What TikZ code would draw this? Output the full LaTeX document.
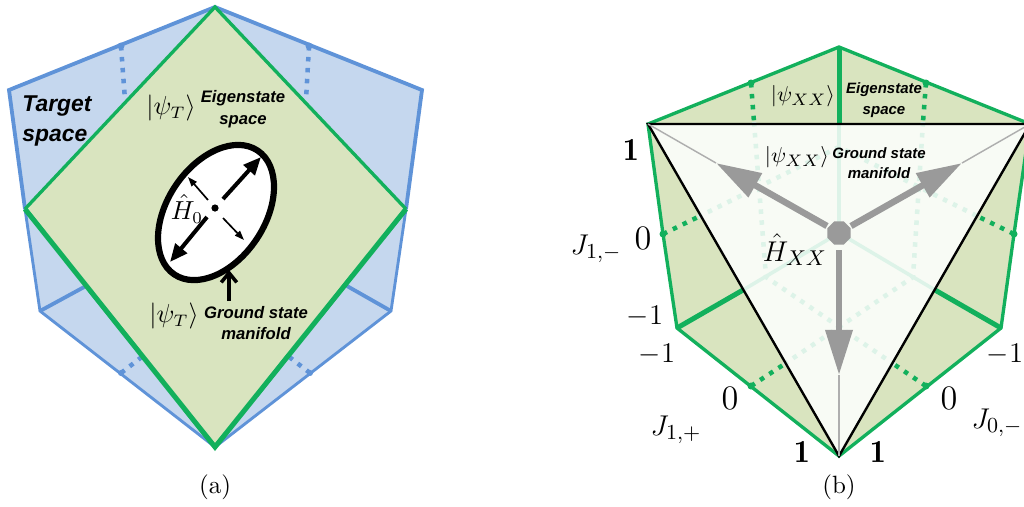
\documentclass[tikz,border=0pt]{standalone}
\usepackage{fontspec}
\usetikzlibrary{arrows.meta,shapes.geometric}
\newfontfamily\captionfont[ItalicFont={Liberation Sans Bold Italic}]{Liberation Sans}
\definecolor{bluefill}{HTML}{C5D7EE}
\definecolor{blueline}{HTML}{5F93D8}
\definecolor{greenfill}{HTML}{D9E4BF}
\definecolor{greenline}{HTML}{12B05C}
\definecolor{palefill}{HTML}{F8FBF5}
\definecolor{paleline}{HTML}{DDF3E8}
\definecolor{arrowgray}{HTML}{9A9A9A}
\tikzset{
    blueedge/.style={draw=blueline, line width=1.6pt, line join=miter},
    bluethin/.style={draw=blueline, line width=1.2pt},
    bluedots/.style={draw=blueline, line width=1.9pt, dash pattern=on 1.9pt off 2.7pt},
    greenedge/.style={draw=greenline, line width=1.4pt, line join=miter},
    greenthick/.style={draw=greenline, line width=2.1pt},
    greendots/.style={draw=greenline, line width=1.9pt, dash pattern=on 1.9pt off 2.7pt},
    palesolid/.style={draw=paleline, line width=1.5pt},
    paledots/.style={draw=paleline, line width=1.9pt, dash pattern=on 1.9pt off 2.7pt},
    blackarrow/.style={-{Triangle[length=7.5pt,width=6.2pt]}, line width=1.7pt},
    thinarrow/.style={-{Triangle[length=4pt,width=2.8pt]}, line width=0.7pt},
    grayarrow/.style={draw=arrowgray, line width=2.7pt, -{Triangle[length=19pt,width=11pt]}},
    graythin/.style={draw=arrowgray!80, line width=0.6pt},
    sanslabel/.style={font=\captionfont\itshape\scriptsize, align=center, inner sep=0pt},
    sanssmall/.style={font=\captionfont\itshape\fontsize{6.3}{7.6}\selectfont, align=center, inner sep=0pt},
    biglabel/.style={font=\captionfont\itshape\fontsize{9.6}{12.2}\selectfont, align=center, inner sep=0pt},
    ticklabel/.style={font=\fontsize{13.5}{15}\selectfont, inner sep=0pt},
    negticklabel/.style={font=\fontsize{11.5}{14}\selectfont, inner sep=0pt},
    mathlabel/.style={inner sep=0pt, font=\fontsize{10.5}{12}\selectfont},
    smallmath/.style={inner sep=0pt, font=\fontsize{9.4}{11}\selectfont},
    widemath/.style={inner sep=0pt, font=\fontsize{12.5}{14}\selectfont}
}
\begin{document}
\begin{tikzpicture}[x=0.42pt,y=-0.42pt]
        \clip (0,0) rectangle (1024,506);
        \coordinate (atop) at (215,7);
        \coordinate (aleftup) at (9,90);
        \coordinate (arightup) at (422,90);
        \coordinate (aleft) at (25,209);
        \coordinate (aright) at (406,209);
        \coordinate (aleftlow) at (40,311);
        \coordinate (arightlow) at (391,311);
        \coordinate (abottom) at (215,447);
        \coordinate (ainnerl) at (86,286);
        \coordinate (ainnerr) at (347,286);
        \coordinate (aul) at (121,46);
        \coordinate (aur) at (309,46);
        \coordinate (aull) at (125,100);
        \coordinate (aurr) at (306,100);
        \coordinate (all) at (121,373);
        \coordinate (alr) at (310,373);
        \coordinate (alll) at (143,356);
        \coordinate (alrr) at (288,356);
        \coordinate (acentre) at (215,208);

        \fill[bluefill] (atop) -- (aleftup) -- (aleft) -- (aleftlow) -- (abottom) -- (arightlow) -- (aright) -- (arightup) -- cycle;
        \draw[blueedge] (aleft) -- (aleftup) -- (atop) -- (arightup) -- (aright);
        \draw[bluethin] (aleft) -- (aleftlow) -- (abottom) -- (arightlow) -- (aright);
        \draw[blueedge] (aleftlow) -- (ainnerl);
        \draw[blueedge] (arightlow) -- (ainnerr);
        \draw[bluedots] (aul) -- (aull);
        \draw[bluedots] (aur) -- (aurr);
        \draw[bluedots] (all) -- (alll);
        \draw[bluedots] (alr) -- (alrr);
        \fill[blueline] (aul) circle (3.5) (aur) circle (3.5) (all) circle (3) (alr) circle (3);
        \fill[greenfill] (atop) -- (aleft) -- (abottom) -- (aright) -- cycle;
        \draw[greenedge] (aleft) -- (atop) -- (aright);
        \draw[greenthick, line join=miter] (aleft) -- (abottom) -- (aright);
        \node[draw, line width=2.6pt, fill=white, ellipse, minimum width=62.7pt, minimum height=40.8pt, inner sep=0pt, rotate=56] (ellipse) at (216,212.5) {};
        \fill (acentre) circle (3.6);
        \node[mathlabel] (hzero) at (187,209) {$\hat{H}_0$};
        \draw[blackarrow] (223,199) -- (261,157);
        \draw[blackarrow] (207,217) -- (170,262);
        \draw[thinarrow] (208,200) -- (188,177);
        \draw[thinarrow] (223,218) -- (244,240);
        \coordinate (amanifold) at (229,301);
        \draw[line width=1.5pt, -{Straight Barb[length=4pt,width=6.5pt]}] (amanifold) -- (229,270);
        \node[mathlabel] (apsiup) at (171,108) {$|\psi_T\rangle$};
        \node[mathlabel] (apsilow) at (174,316) {$|\psi_T\rangle$};
        \node[sanslabel] (aeigen) at (243,109) {Eigenstate\\[1.2pt]space};
        \node[sanslabel] (aground) at (256,323) {Ground state\\[1.2pt]manifold};
        \node[biglabel, align=left] (atarget) at (57,121) {Target\\space};
        \node[mathlabel] (acaption) at (215,487) {(a)};

        \coordinate (btop) at (839,47);
        \coordinate (bleftup) at (648,124);
        \coordinate (brightup) at (1030,124);
        \coordinate (bleft) at (663,234);
        \coordinate (bright) at (1014,234);
        \coordinate (bleftlow) at (677,328);
        \coordinate (brightlow) at (1001,328);
        \coordinate (bbottom) at (839,456);
        \coordinate (bcentre) at (839,233);
        \coordinate (bmidtop) at (839,124);
        \coordinate (binnerl) at (743,290);
        \coordinate (binnerr) at (935,290);
        \coordinate (bul) at (751,83);
        \coordinate (bur) at (926,83);
        \coordinate (bll) at (751,386);
        \coordinate (blr) at (926,386);
        \coordinate (bulend) at (754,122);
        \coordinate (burend) at (923,122);
        \coordinate (bleftend) at (698,217);
        \coordinate (brightend) at (979,217);
        \coordinate (bllend) at (783,365);
        \coordinate (blrend) at (895,365);
        \coordinate (bpeak) at (839,147);
        \coordinate (bhidel) at (766,277);
        \coordinate (bhider) at (913,277);

        \fill[greenfill] (btop) -- (bleftup) -- (bleft) -- (bleftlow) -- (bbottom) -- (brightlow) -- (bright) -- (brightup) -- cycle;
        \fill[palefill] (bleftup) -- (brightup) -- (bbottom) -- cycle;
        \draw[palesolid] (bmidtop) -- (bcentre);
        \draw[palesolid] (binnerl) -- (bcentre);
        \draw[palesolid] (binnerr) -- (bcentre);
        \draw[paledots] (bulend) -- (bhidel) -- (blrend);
        \draw[paledots] (burend) -- (bhider) -- (bllend);
        \draw[paledots] (bleftend) -- (bpeak) -- (brightend);
        \draw[greendots] (bul) -- (bulend);
        \draw[greendots] (bur) -- (burend);
        \draw[greendots] (bleft) -- (bleftend);
        \draw[greendots] (bright) -- (brightend);
        \draw[greendots] (bll) -- (bllend);
        \draw[greendots] (blr) -- (blrend);
        \draw[greenthick] (btop) -- (bmidtop);
        \draw[greenthick] (bleftlow) -- (binnerl);
        \draw[greenthick] (brightlow) -- (binnerr);
        \draw[greenedge] (bleftup) -- (btop) -- (brightup) -- (bright) -- (brightlow) -- (bbottom) -- (bleftlow) -- (bleft) -- cycle;
        \fill[greenline] (bul) circle (3.5) (bur) circle (3.5) (bleft) circle (3.5) (bright) circle (3.5) (bll) circle (3.5) (blr) circle (3.5);
        \draw[black, line width=1pt, line join=miter] (bleftup) -- (brightup) -- (bbottom) -- cycle;
        \draw[graythin] (bleftup) -- (716,163);
        \draw[graythin] (brightup) -- (962,163);
        \draw[graythin] (bbottom) -- (839,375);
        \node[regular polygon, regular polygon sides=8, fill=arrowgray, minimum size=10.5pt, inner sep=0pt] (bhub) at (bcentre) {};
        \draw[grayarrow] (827,226) -- (716,163);
        \draw[grayarrow] (851,226) -- (962,163);
        \draw[grayarrow] (839,250) -- (839,375);
        \node[smallmath] (bpsiup) at (803,96) {$|\psi_{XX}\rangle$};
        \node[smallmath] (bpsilow) at (797,157) {$|\psi_{XX}\rangle$};
        \node[sanssmall] (beigen) at (884,100) {Eigenstate\\[1pt]space};
        \node[sanssmall] (bground) at (879,163) {Ground state\\[1pt]manifold};
        \node[widemath] (bhxx) at (795,250) {$\hat{H}_{XX}$};
        \node[ticklabel] (tickla) at (631,150) {$\mathbf{1}$};
        \node[ticklabel] (ticklb) at (643,238) {$0$};
        \node[negticklabel] (ticklc) at (645,316) {$-1$};
        \node[negticklabel] (tickld) at (657,354) {$-1$};
        \node[ticklabel] (tickle) at (730,398) {$0$};
        \node[ticklabel] (ticklf) at (802,452) {$\mathbf{1}$};
        \node[ticklabel] (tickra) at (878,452) {$\mathbf{1}$};
        \node[ticklabel] (tickrb) at (949,398) {$0$};
        \node[negticklabel] (tickrc) at (1005,354) {$-1$};
        \node[widemath] (jonem) at (596,249) {$J_{1,-}$};
        \node[widemath] (jonep) at (676,430) {$J_{1,+}$};
        \node[widemath, anchor=east] (jzerom) at (1023,423) {$J_{0,-}$};
        \node[mathlabel] (bcaption) at (839,487) {(b)};
    \end{tikzpicture}
\end{document}
